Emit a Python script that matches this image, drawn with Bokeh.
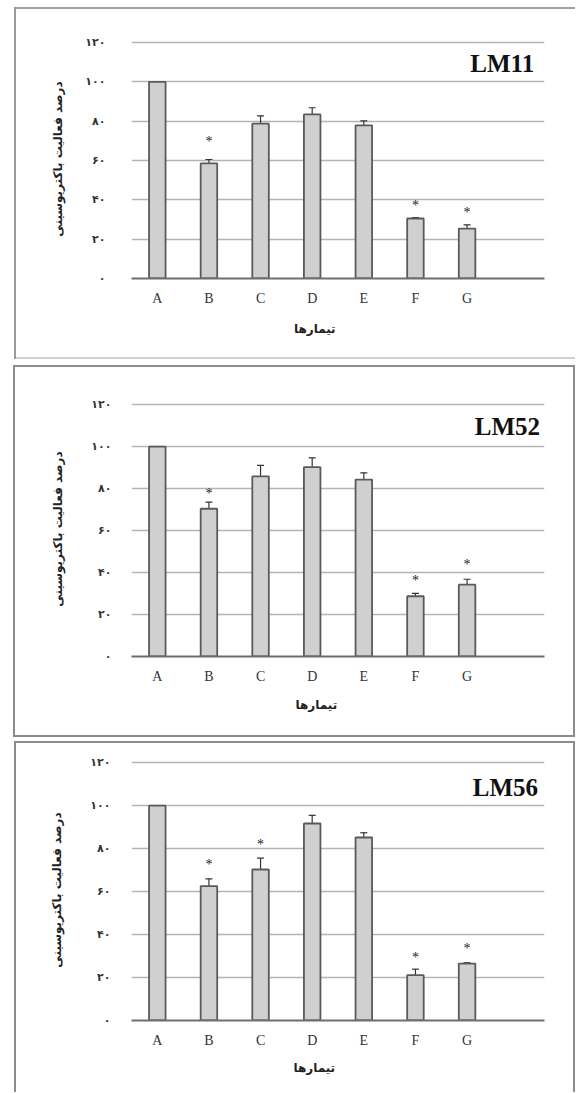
from bokeh.plotting import figure
from bokeh.models import (ColumnDataSource, Range1d, FixedTicker,
                          Whisker, TeeHead, Label, LinearAxis)
from bokeh.layouts import column
from bokeh.embed import file_html
from bokeh.resources import INLINE
from bokeh.core.properties import value

# ---------------- data ----------------
categories = ["A", "B", "C", "D", "E", "F", "G"]

lm11_values = [100, 58.5, 78.7, 83.4, 77.8, 30.5, 25.4]
lm11_errors = [0, 2.0, 4.0, 3.4, 2.3, 0.5, 1.9]
lm11_star_y = [None, 70.7, None, None, None, 38.2, 34.7]

lm52_values = [100, 70.4, 85.8, 90.2, 84.3, 28.7, 34.2]
lm52_errors = [0, 3.2, 5.3, 4.4, 3.2, 1.4, 2.6]
lm52_star_y = [None, 78.8, None, None, None, 37.1, 45.0]

lm56_values = [100, 62.6, 70.3, 91.7, 85.2, 21.1, 26.5]
lm56_errors = [0, 3.3, 5.3, 3.8, 2.2, 2.8, 0.4]
lm56_star_y = [None, 73.6, 82.9, None, None, 30.1, 34.6]

panel_titles = ["LM11", "LM52", "LM56"]

y_ticks = [0, 20, 40, 60, 80, 100, 120]
y_tick_labels = ["۰", "۲۰", "۴۰", "۶۰", "۸۰", "۱۰۰", "۱۲۰"]

y_axis_title = "درصد فعالیت باکتریوسینی"
x_axis_title = "تیمارها"

PERSIAN_FONT = "DejaVu Sans"
LATIN_FONT = "Liberation Serif"

# slot centres of the categories (one empty slot is left on the right)
x_pos = [i + 0.5 for i in range(len(categories))]
n_slots = len(categories) + 1


def frame_lines(width, height, x0, sides, colors):
    """CSS background lines that draw the panel's box (left edge at x0)."""
    imgs, sizes, poss = [], [], []
    for side, col in zip(sides, colors):
        imgs.append("linear-gradient(%s, %s)" % (col, col))
        if side == "left":
            sizes.append("2px %dpx" % height)
            poss.append("%dpx 0px" % x0)
        elif side == "right":
            sizes.append("2px %dpx" % height)
            poss.append("%dpx 0px" % (width - 2))
        elif side == "top":
            sizes.append("%dpx 2px" % (width - x0))
            poss.append("%dpx 0px" % x0)
        elif side == "bottom":
            sizes.append("%dpx 2px" % (width - x0))
            poss.append("%dpx %dpx" % (x0, height - 2))
    return {"background-color": "white",
            "background-image": ", ".join(imgs),
            "background-size": ", ".join(sizes),
            "background-position": ", ".join(poss),
            "background-repeat": "no-repeat"}


def make_panel(values, errors, star_y, title, width, height, borders,
               margin_top, tick_standoff, label_standoff, title_x, title_y,
               xlabel_x, xlabel_standoff, box_x0, sides, colors):
    p = figure(x_range=Range1d(0, n_slots),
               y_range=Range1d(0, 121.5),
               width=width, height=height,
               output_backend="svg", toolbar_location=None,
               min_border_left=borders[0], min_border_right=borders[1],
               min_border_top=borders[2], min_border_bottom=borders[3])
    p.margin = (margin_top, 0, 0, 0)
    p.styles = frame_lines(width, height, box_x0, sides, colors)
    p.outline_line_color = None
    p.background_fill_color = None
    p.border_fill_color = None

    # bars
    src = ColumnDataSource(dict(x=x_pos, top=values))
    p.vbar(x="x", top="top", width=0.32, source=src, fill_color="#d0d0d0",
           line_color="#5a5a5a", line_width=1.8)

    # error bars
    ex, lo, hi = [], [], []
    for xp, v, e in zip(x_pos, values, errors):
        if e > 0:
            ex.append(xp)
            lo.append(v - e)
            hi.append(v + e)
    esrc = ColumnDataSource(dict(x=ex, lower=lo, upper=hi))
    w = Whisker(base="x", lower="lower", upper="upper", source=esrc,
                dimension="height", line_color="#333333", line_width=1.2,
                upper_head=TeeHead(size=7, line_color="#333333", line_width=1.2),
                lower_head=TeeHead(size=7, line_color="#333333", line_width=1.2))
    p.add_layout(w)

    # significance stars
    sx = [xp for xp, s in zip(x_pos, star_y) if s is not None]
    sy = [s for s in star_y if s is not None]
    p.text(x=sx, y=sy, text=["*"] * len(sx), text_align="center",
           text_baseline="middle", text_font=value(LATIN_FONT),
           text_font_size="14px", text_color="#222222", y_offset=2)

    # panel title
    p.add_layout(Label(x=title_x, y=title_y, text=title, text_align="right",
                       text_baseline="middle", text_font=LATIN_FONT,
                       text_font_size="25px", text_font_style="bold",
                       text_color="#111111"))

    # grid
    p.xgrid.grid_line_color = None
    p.ygrid.ticker = FixedTicker(ticks=y_ticks)
    p.ygrid.grid_line_color = "#b4b4b4"
    p.ygrid.grid_line_width = 1.4

    # y axis
    p.yaxis.ticker = FixedTicker(ticks=y_ticks)
    p.yaxis.major_label_overrides = {t: l for t, l in zip(y_ticks, y_tick_labels)}
    p.yaxis.axis_line_color = None
    p.yaxis.major_tick_line_color = None
    p.yaxis.minor_tick_line_color = None
    p.yaxis.major_tick_out = 0
    p.yaxis.major_tick_in = 0
    p.yaxis.major_label_standoff = tick_standoff
    p.yaxis.major_label_text_font = PERSIAN_FONT
    p.yaxis.major_label_text_font_size = "11px"
    p.yaxis.major_label_text_font_style = "bold"
    p.yaxis.major_label_text_color = "#333333"
    p.yaxis.axis_label = y_axis_title
    p.yaxis.axis_label_text_font = PERSIAN_FONT
    p.yaxis.axis_label_text_font_size = "12px"
    p.yaxis.axis_label_text_font_style = "bold"
    p.yaxis.axis_label_text_color = "#222222"
    p.yaxis.axis_label_standoff = label_standoff

    # x axis with the category names
    p.xaxis.ticker = FixedTicker(ticks=x_pos)
    p.xaxis.major_label_overrides = {xp: c for xp, c in zip(x_pos, categories)}
    p.xaxis.axis_line_color = "#6e6e6e"
    p.xaxis.axis_line_width = 2
    p.xaxis.major_tick_line_color = None
    p.xaxis.minor_tick_line_color = None
    p.xaxis.major_tick_out = 0
    p.xaxis.major_tick_in = 0
    p.xaxis.major_label_standoff = 12
    p.xaxis.major_label_text_font = LATIN_FONT
    p.xaxis.major_label_text_font_size = "14px"
    p.xaxis.major_label_text_color = "#333333"

    # x axis title, centred under the bars (second, label-only axis)
    ax = LinearAxis(ticker=FixedTicker(ticks=[xlabel_x]),
                    major_label_overrides={xlabel_x: x_axis_title})
    ax.axis_line_color = None
    ax.major_tick_line_color = None
    ax.minor_tick_line_color = None
    ax.major_tick_out = 0
    ax.major_tick_in = 0
    ax.major_label_standoff = xlabel_standoff
    ax.major_label_text_font = PERSIAN_FONT
    ax.major_label_text_font_size = "12px"
    ax.major_label_text_font_style = "bold"
    ax.major_label_text_color = "#222222"
    p.add_layout(ax, "below")
    return p


p1 = make_panel(lm11_values, lm11_errors, lm11_star_y, panel_titles[0],
                width=575, height=352, borders=(121, 31, 32, 81),
                margin_top=7, tick_standoff=26, label_standoff=17,
                title_x=7.8, title_y=109.2, xlabel_x=3.55, xlabel_standoff=13,
                box_x0=14, sides=["left", "top", "bottom"],
                colors=["#9a9a9a", "#a0a0a0", "#cfcfcf"])
p2 = make_panel(lm52_values, lm52_errors, lm52_star_y, panel_titles[1],
                width=575, height=372, borders=(127, 24, 36, 81),
                margin_top=6, tick_standoff=20, label_standoff=23,
                title_x=7.915, title_y=109.5, xlabel_x=3.58, xlabel_standoff=11,
                box_x0=13, sides=["left", "top", "right", "bottom"],
                colors=["#8c8c8c"] * 4)
p3 = make_panel(lm56_values, lm56_errors, lm56_star_y, panel_titles[2],
                width=575, height=351, borders=(131, 16, 18, 72),
                margin_top=4, tick_standoff=21, label_standoff=23,
                title_x=7.875, title_y=108.6, xlabel_x=3.54, xlabel_standoff=10,
                box_x0=14, sides=["left", "top", "right"],
                colors=["#8c8c8c"] * 3)

layout = column(p1, p2, p3)
open("out.html", "w").write(file_html(layout, INLINE))
